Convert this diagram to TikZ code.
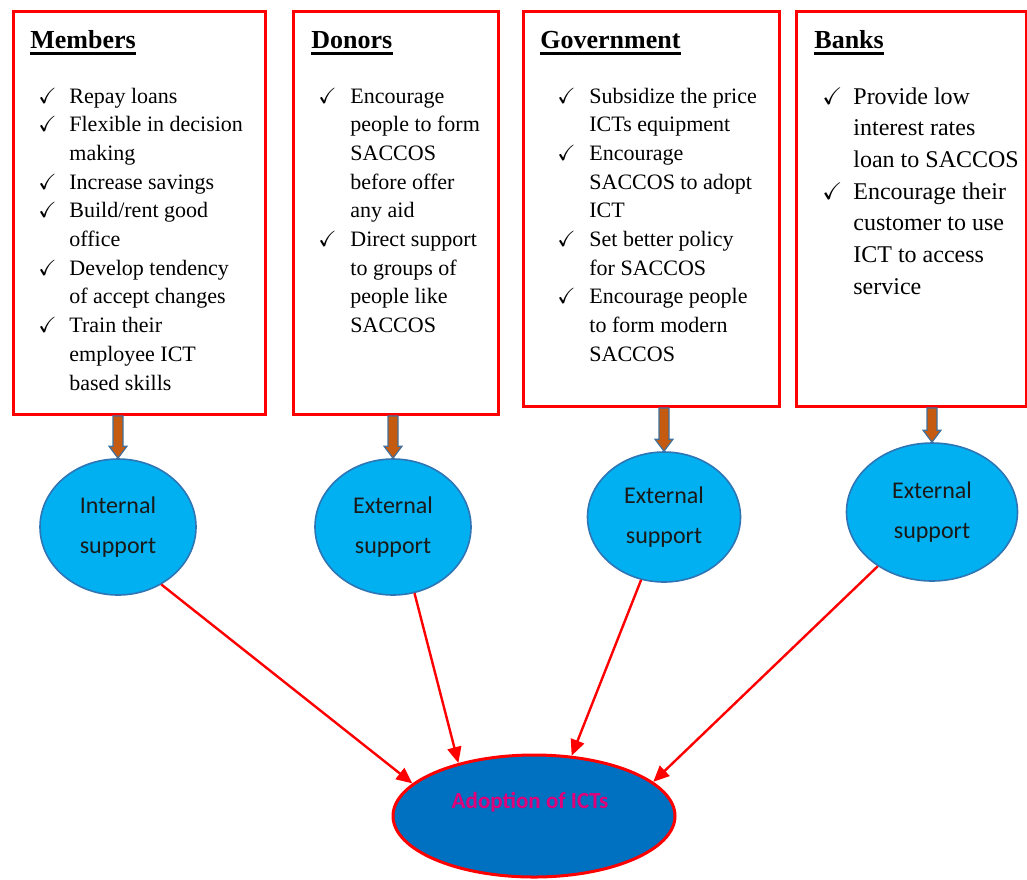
\documentclass[tikz,border=0pt]{standalone}
\usepackage{fontspec}
\usepackage{amssymb}
\setmainfont{Liberation Serif}
\newfontfamily\calibri{Carlito}
\usetikzlibrary{shapes.geometric,arrows.meta,calc}
\definecolor{boxred}{HTML}{FF0000}
\definecolor{supportcyan}{HTML}{00B0F0}
\definecolor{supportblue}{HTML}{2E75B6}
\definecolor{adoptblue}{HTML}{0070C0}
\definecolor{adopttext}{HTML}{E0007A}
\definecolor{feedorange}{HTML}{C55A11}
\definecolor{feedblue}{HTML}{41719C}
\newcommand{\tick}{$\checkmark$}
\begin{document}
\begin{tikzpicture}[x=0.5pt,y=-0.5pt,
    infobox/.style={draw=boxred, line width=1.5pt, anchor=north west, inner sep=0pt},
    heading/.style={anchor=base west, inner sep=0pt, font=\fontsize{13}{15}\selectfont\bfseries},
    ticklist/.style={anchor=base west, inner sep=0pt, font=\fontsize{11}{14.35}\selectfont},
    support/.style={ellipse, draw=supportblue, line width=0.8pt, fill=supportcyan, inner sep=0pt,
        align=center, text=black!90, font=\calibri\fontsize{12}{20}\selectfont},
    feed/.style={draw=feedblue, line width=0.6pt, fill=feedorange},
    toadopt/.style={draw=boxred, line width=1.2pt, -{Triangle[length=8pt,width=7pt]}}]
    \useasboundingbox (0,0) rectangle (1027,879);

    \node[infobox, minimum width=126pt, minimum height=201.5pt] (mem) at (12,10) {};
    \node[infobox, minimum width=102.5pt, minimum height=201.5pt] (don) at (292,10) {};
    \node[infobox, minimum width=128pt, minimum height=197.5pt] (gov) at (522,10) {};
    \node[infobox, minimum width=115pt, minimum height=197.5pt] (bank) at (795,10) {};

    \node[heading] (memhead) at (30,48) {Members};
    \node[heading] (donhead) at (311,48) {Donors};
    \node[heading] (govhead) at (540,48) {Government};
    \node[heading] (bankhead) at (814,48) {Banks};
    \foreach \h in {memhead, donhead, govhead, bankhead}
        \draw[line width=1.5pt] ([yshift=-2.6pt]\h.base west) -- ([yshift=-2.6pt]\h.base east);

    \node[ticklist] (memlist) at (38,103) {\begin{tabular}[t]{@{}p{15.5pt}@{}l@{}}
        \tick & Repay loans\\
        \tick & Flexible in decision\\
              & making\\
        \tick & Increase savings\\
        \tick & Build/rent good\\
              & office\\
        \tick & Develop tendency\\
              & of accept changes\\
        \tick & Train their\\
              & employee ICT\\
              & based skills
    \end{tabular}};
    \node[ticklist] (donlist) at (318,103) {\begin{tabular}[t]{@{}p{16pt}@{}l@{}}
        \tick & Encourage\\
              & people to form\\
              & SACCOS\\
              & before offer\\
              & any aid\\
        \tick & Direct support\\
              & to groups of\\
              & people like\\
              & SACCOS
    \end{tabular}};
    \node[ticklist] (govlist) at (557,103) {\begin{tabular}[t]{@{}p{16pt}@{}l@{}}
        \tick & Subsidize the price\\
              & ICTs equipment\\
        \tick & Encourage\\
              & SACCOS to adopt\\
              & ICT\\
        \tick & Set better policy\\
              & for SACCOS\\
        \tick & Encourage people\\
              & to form modern\\
              & SACCOS
    \end{tabular}};
    \node[ticklist, font=\fontsize{12}{15.85}\selectfont] (banklist) at (822,104) {\begin{tabular}[t]{@{}p{15.5pt}@{}l@{}}
        \tick & Provide low\\
              & interest rates\\
              & loan to SACCOS\\
        \tick & Encourage their\\
              & customer to use\\
              & ICT to access\\
              & service
    \end{tabular}};

    \node[support, minimum width=78pt, minimum height=68pt] (int) at (118,527) {Internal\\support};
    \node[support, minimum width=78pt, minimum height=68pt] (ext1) at (393,527) {External\\support};
    \node[support, minimum width=76.5pt, minimum height=65pt] (ext2) at (664,517) {External\\support};
    \node[support, minimum width=85.5pt, minimum height=69pt] (ext3) at (932,512) {External\\support};

    \node[ellipse, draw=boxred, line width=1.5pt, fill=adoptblue, minimum width=141pt, minimum height=61pt] (adopt) at (534,816) {};
    \node[text=adopttext, font=\calibri\bfseries\fontsize{11.5}{13}\selectfont] (adopttxt) at ([xshift=-2pt,yshift=7pt]adopt.center) {Adoption of ICTs};

    \foreach \b/\e in {mem/int, don/ext1, gov/ext2, bank/ext3}
        \draw[feed] let \p1=(\e.north), \p2=(\b.south) in
            (\x1-2.5pt,\y2) -- (\x1+2.5pt,\y2) -- (\x1+2.5pt,\y1+6pt) -- (\x1+4.5pt,\y1+6pt)
            -- (\x1,\y1) -- (\x1-4.5pt,\y1+6pt) -- (\x1-2.5pt,\y1+6pt) -- cycle;

    \draw[toadopt] (int.-53) -- (adopt.165);
    \draw[toadopt] (ext1.-72) -- (adopt.145);
    \draw[toadopt] (ext2.-110) -- (adopt.58);
    \draw[toadopt] (ext3.-135) -- (adopt.16);
\end{tikzpicture}
\end{document}
